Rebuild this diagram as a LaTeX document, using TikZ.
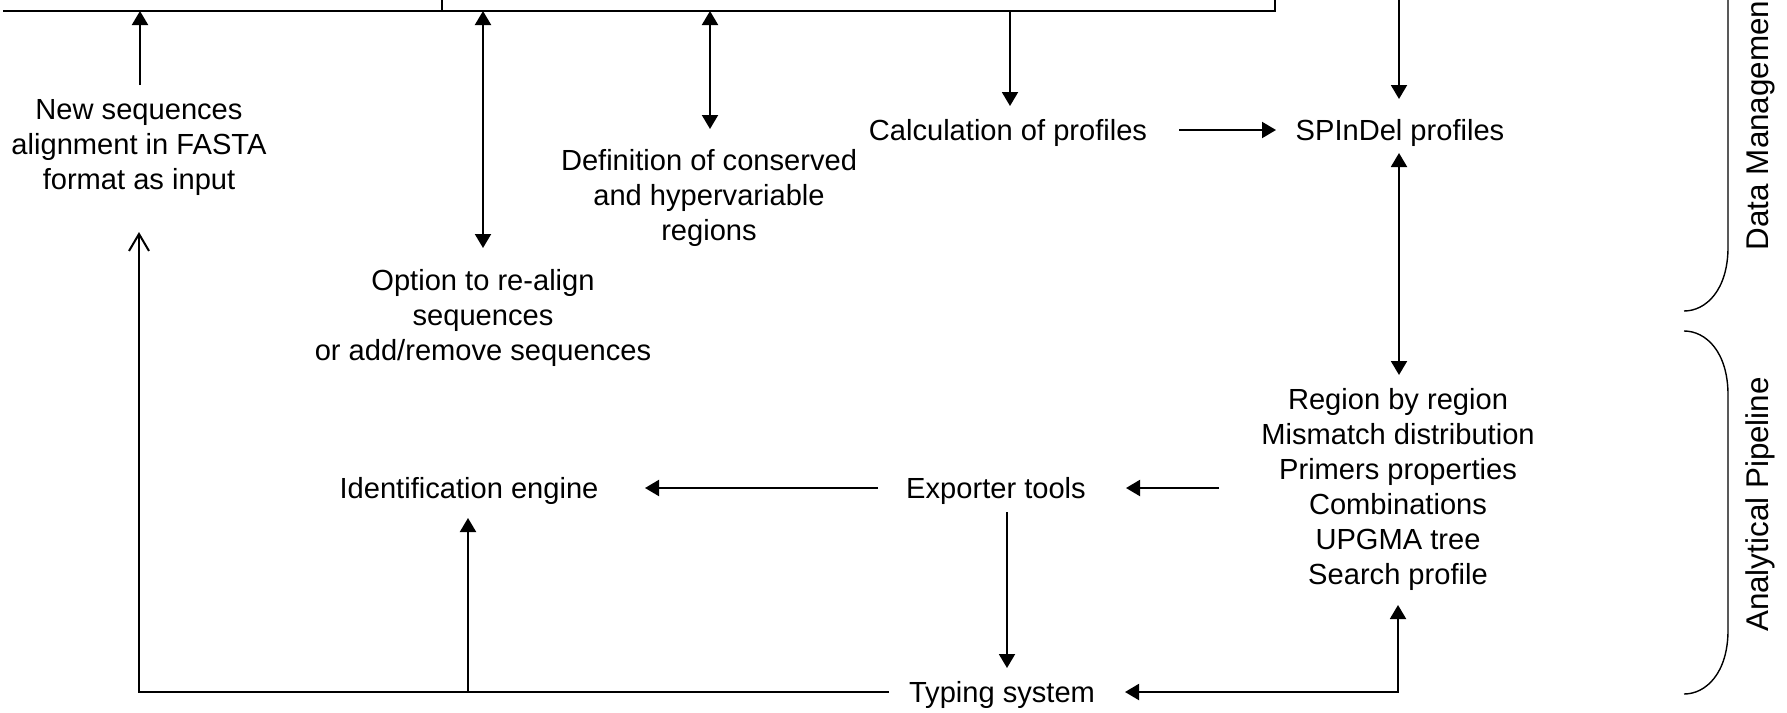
\documentclass[tikz,border=0pt]{standalone}
\usepackage{fontspec}
\setmainfont{Liberation Sans}
\usetikzlibrary{arrows.meta}
\tikzset{
  lbl/.style={font=\fontsize{14.55pt}{17.5pt}\selectfont, align=center, inner sep=0pt, yshift=-1.5pt},
  sidelbl/.style={font=\fontsize{15.7pt}{18pt}\selectfont, inner sep=0pt, rotate=90, anchor=base},
  wire/.style={line width=1pt},
  arr/.style={wire, -{Triangle[width=8pt,length=7pt]}},
  darr/.style={wire, {Triangle[width=8pt,length=7pt]}-{Triangle[width=8pt,length=7pt]}},
  barb/.style={wire, -{Straight Barb[width=10pt,length=8.5pt]}},
  brace/.style={line width=0.7pt}
}
\begin{document}
\begin{tikzpicture}[x=0.5pt,y=-0.5pt]
\useasboundingbox (0,0) rectangle (1787,712);
\clip (0,0) rectangle (1787,712);

% text nodes
\node[lbl] (newseq) at (139,145) {New sequences\\alignment in FASTA\\format as input};
\node[lbl] (option) at (483,315) {Option to re-align\\sequences\\or add/remove sequences};
\node[lbl] (defin) at (709,195) {Definition of conserved\\and hypervariable\\regions};
\node[lbl] (calc) at (1008,130) {Calculation of profiles};
\node[lbl] (spindel) at (1400,130) {SPInDel profiles};
\node[lbl] (region) at (1398,486.5) {Region by region\\Mismatch distribution\\Primers properties\\Combinations\\UPGMA tree\\Search profile};
\node[lbl] (exporter) at (996,488) {Exporter tools};
\node[lbl] (ident) at (469,488) {Identification engine};
\node[lbl] (typing) at (1002,692) {Typing system};
\node[sidelbl] (dm) at (1768,121) {Data Management};
\node[sidelbl] (ap) at (1768,504.5) {Analytical Pipeline};

% top bus (bottom edges of the boxes above)
\coordinate (busL) at (3,11);
\coordinate (busR) at (1275,11);
\coordinate (busRtop) at (1275,-5);
\coordinate (busJ) at (442,11);
\coordinate (busJtop) at (442,-5);
\draw[wire] (busL) -- (busR) -- (busRtop);
\draw[wire] (busJtop) -- (busJ);

% arrows from / to the bus
\coordinate (newseqTop) at (140,85);
\coordinate (busNew) at (140,11);
\draw[arr] (newseqTop) -- (busNew);

\coordinate (busOpt) at (483,11);
\coordinate (optTop) at (483,248);
\draw[darr] (busOpt) -- (optTop);

\coordinate (busDef) at (710,11);
\coordinate (defTop) at (710,129);
\draw[darr] (busDef) -- (defTop);

\coordinate (busCalc) at (1010,11);
\coordinate (calcTop) at (1010,106);
\draw[arr] (busCalc) -- (calcTop);

\coordinate (spTopIn) at (1399,-5);
\coordinate (spTop) at (1399,99);
\draw[arr] (spTopIn) -- (spTop);

% profiles
\coordinate (calcR) at (1179,130);
\coordinate (spL) at (1276,130);
\draw[arr] (calcR) -- (spL);

\coordinate (spBot) at (1399,153);
\coordinate (regTop) at (1399,375);
\draw[darr] (spBot) -- (regTop);

% analytical pipeline
\coordinate (regL) at (1219,488);
\coordinate (expR) at (1126,488);
\draw[arr] (regL) -- (expR);

\coordinate (expL) at (878,488);
\coordinate (identR) at (645,488);
\draw[arr] (expL) -- (identR);

\coordinate (expBot) at (1007,512);
\coordinate (typTop) at (1007,668);
\draw[arr] (expBot) -- (typTop);

\coordinate (typL) at (889,692);
\coordinate (cornerL) at (139,692);
\coordinate (newseqBot) at (139,232);
\draw[barb] (typL) -- (cornerL) -- (newseqBot);

\coordinate (branch) at (468,692);
\coordinate (identBot) at (468,518);
\draw[arr] (branch) -- (identBot);

\coordinate (typR) at (1125,692);
\coordinate (cornerR) at (1398,692);
\coordinate (regBot) at (1398,605);
\draw[darr] (typR) -- (cornerR) -- (regBot);

% braces
\draw[brace] (1728,-10) -- (1728,247) .. controls (1728,290) and (1706,311) .. (1684,311);
\draw[brace] (1684,331) .. controls (1706,331) and (1728,352) .. (1728,395) -- (1728,630) .. controls (1728,673) and (1706,694) .. (1684,694);
\end{tikzpicture}
\end{document}
